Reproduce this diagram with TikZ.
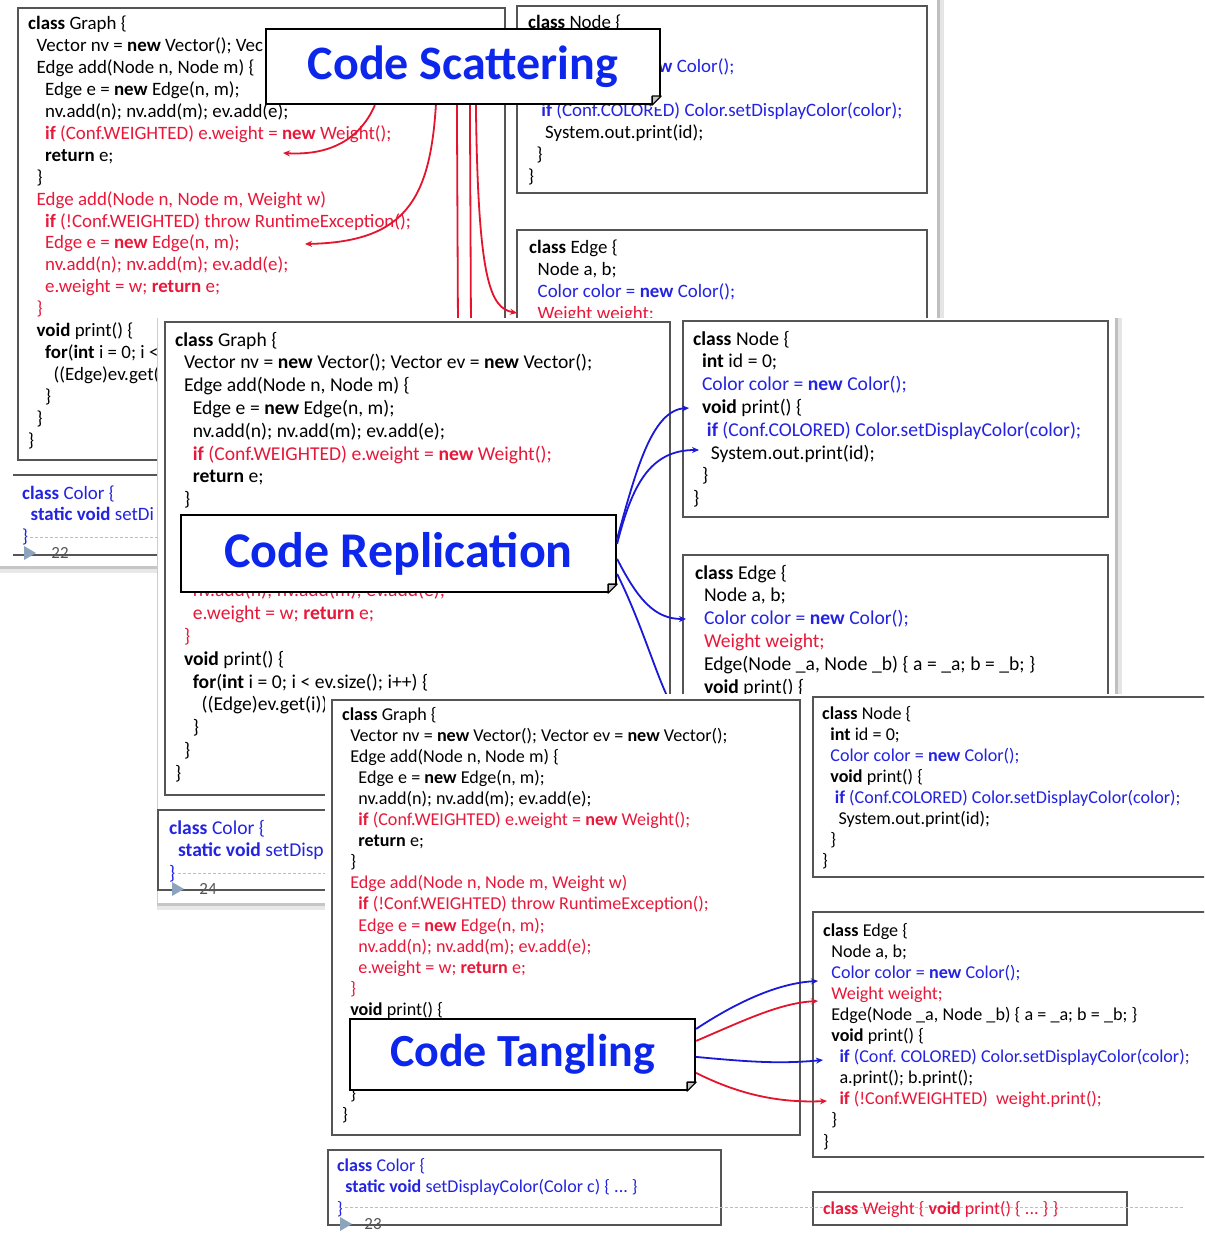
\documentclass[tikz,border=0pt]{standalone}
\usepackage{fontspec}
\setmainfont{Carlito}
\usetikzlibrary{arrows.meta}
\setlength{\parindent}{0pt}

\definecolor{codeblue}{RGB}{35,35,225}
\definecolor{codered}{RGB}{232,24,58}
\definecolor{titleblue}{RGB}{12,38,235}
\definecolor{arrowblue}{RGB}{25,25,215}
\definecolor{arrowred}{RGB}{228,20,45}
\definecolor{boxgray}{RGB}{85,85,85}
\definecolor{footgray}{RGB}{140,165,188}

\newcommand{\kwd}[1]{\textbf{#1}}
\newcommand{\tabi}{\hspace*{.45em}}
\newcommand{\tabj}{\hspace*{.7em}}
\newcommand{\cblue}[1]{{\color{codeblue}#1}}
\newcommand{\cred}[1]{{\color{codered}#1}}
\newcommand{\tightsp}{\frenchspacing\spaceskip=.23em\relax}

% Classe Node (entière)
\newcommand{\nodecode}{%
\kwd{class} Node \{\\
\tabi\kwd{int} id = 0;\\
\tabi\cblue{Color color = \kwd{new} Color();}\\
\tabi\kwd{void} print() \{\\
\tabj\cblue{\kwd{if} (Conf.COLORED) Color.setDisplayColor(color);}\\
\tabi\tabi System.out.print(id);\\
\tabi\}\\
\}}

\tikzset{
  codebox/.style={draw=boxgray, line width=1.3pt},
  codetext/.style={anchor=base west, inner sep=0pt, text width=620pt, align=left,
    execute at begin node=\tightsp},
  sizeA/.style={font=\fontsize{18.9}{21.9}\selectfont},
  sizeB/.style={font=\fontsize{19.6}{22.8}\selectfont},
  sizeC/.style={font=\fontsize{18.1}{21.1}\selectfont},
  sizeD/.style={font=\fontsize{18}{21.5}\selectfont},
  callout/.style={draw=black, line width=2.2pt, fill=white, text=titleblue, inner sep=0pt},
  redarrow/.style={draw=arrowred, line width=1.8pt, -{Stealth[length=7pt,width=6pt]}},
  bluearrow/.style={draw=arrowblue, line width=1.8pt, -{Stealth[length=7pt,width=6pt]}},
  footline/.style={draw=footgray!70, line width=0.8pt, dash pattern=on 3pt off 2pt},
  pagenum/.style={text=boxgray, inner sep=0pt, font=\fontsize{17}{17}\selectfont},
}

\begin{document}
\begin{tikzpicture}[x=1pt, y=-1pt]
\useasboundingbox (0,0) rectangle (1204,1241);
\clip (0,0) rectangle (1204,1241);
\fill[white] (0,0) rectangle (1204,1241);

% Diapositive 22
\fill[gray!50] (937,0) rectangle (940,569);
\fill[gray!20] (940,0) rectangle (944,572);
\fill[gray!45] (0,566) rectangle (940,569);
\fill[gray!18] (0,569) rectangle (940,573);
\draw[codebox] (18,8) rectangle (505,460);
\draw[codebox] (517,6) rectangle (927,193);
\draw[codebox] (517,230) rectangle (927,520);
\draw[codebox] (13,475) -- (420,475) (13,555) -- (420,555);
\node[codetext, sizeA] (g22) at (28,30) {%
\kwd{class} Graph \{\\
\tabi Vector nv = \kwd{new} Vector(); Vec\\
\tabi Edge add(Node n, Node m) \{\\
\tabi\tabi Edge e = \kwd{new} Edge(n, m);\\
\tabi\tabi nv.add(n); nv.add(m); ev.add(e);\\
\tabi\tabi\cred{\kwd{if} (Conf.WEIGHTED) e.weight = \kwd{new} Weight();}\\
\tabi\tabi\kwd{return} e;\\
\tabi\}\\
\tabi\cred{Edge add(Node n, Node m, Weight w)}\\
\tabi\tabi\cred{\kwd{if} (!Conf.WEIGHTED) throw RuntimeException();}\\
\tabi\tabi\cred{Edge e = \kwd{new} Edge(n, m);}\\
\tabi\tabi\cred{nv.add(n); nv.add(m); ev.add(e);}\\
\tabi\tabi\cred{e.weight = w; \kwd{return} e;}\\
\tabi\cred{\}}\\
\tabi\kwd{void} print() \{\\
\tabi\tabi\kwd{for}(\kwd{int} i = 0; i <\\
\tabi\tabi\tabi((Edge)ev.get(\\
\tabi\tabi\}\\
\tabi\}\\
\}};
\node[codetext, sizeA] (n22) at (528,29) {%
\kwd{class} Node \{\\
\mbox{}\\
\tabi\cblue{\phantom{Color color = \kwd{ne}}\kwd{w} Color();}\\
\mbox{}\\
\tabj\cblue{\kwd{if} (Conf.COLORED) Color.setDisplayColor(color);}\\
\tabi\tabi System.out.print(id);\\
\tabi\}\\
\}};
\node[codetext, sizeA] (e22) at (529,254) {%
\kwd{class} Edge \{\\
\tabi Node a, b;\\
\tabi\cblue{Color color = \kwd{new} Color();}\\
\tabi\cred{Weight weight;}};
\node[codetext, sizeA] (c22) at (22,499) {%
\cblue{\kwd{class} Color \{}\\
\tabi\cblue{\kwd{static void} setDi}\\
\cblue{\}}};
\draw[footline] (30,537) -- (900,537);
\fill[footgray] (24,546) -- (36,553) -- (24,560) -- cycle;
\node[pagenum] (p22) at (60,553) {22};

% Dispersion du code
\node[callout, minimum width=394pt, minimum height=75pt,
      font=\bfseries\fontsize{48}{50}\selectfont] (scat) at (463,66.5) {Code Scattering};
\coordinate (sc1) at (283,153);
\coordinate (sc2) at (305,244);
\coordinate (sc3) at (517,313);
\coordinate (sc4) at (458,330);
\coordinate (sc5) at (471,330);
\draw[redarrow] ([xshift=110pt]scat.south west) .. controls (362,135) and (335,156) .. (sc1);
\draw[redarrow] ([xshift=171pt]scat.south west) .. controls (430,200) and (405,242) .. (sc2);
\draw[draw=arrowred, line width=1.8pt] ([xshift=192pt]scat.south west) -- (sc4);
\draw[draw=arrowred, line width=1.8pt] ([xshift=205pt]scat.south west) -- (sc5);
\draw[redarrow] ([xshift=211pt]scat.south west) .. controls (478,280) and (490,308) .. (sc3);

% Diapositive 24
\fill[white] (157,318) rectangle (1115,903);
\fill[gray!50] (1115,318) rectangle (1118,906);
\fill[gray!20] (1118,318) rectangle (1122,909);
\fill[gray!45] (157,903) rectangle (1118,906);
\fill[gray!18] (157,906) rectangle (1118,910);
\draw[gray!40, line width=0.6pt] (157,318) -- (157,903);
\draw[codebox] (165,322) rectangle (670,795);
\draw[codebox] (683,321) rectangle (1108,517);
\draw[codebox] (683,555) rectangle (1108,800);
\draw[codebox] (158,810) rectangle (560,890);
\node[codetext, sizeB] (g24) at (175,346) {%
\kwd{class} Graph \{\\
\tabi Vector nv = \kwd{new} Vector(); Vector ev = \kwd{new} Vector();\\
\tabi Edge add(Node n, Node m) \{\\
\tabi\tabi Edge e = \kwd{new} Edge(n, m);\\
\tabi\tabi nv.add(n); nv.add(m); ev.add(e);\\
\tabi\tabi\cred{\kwd{if} (Conf.WEIGHTED) e.weight = \kwd{new} Weight();}\\
\tabi\tabi\kwd{return} e;\\
\tabi\}\\
\mbox{}\\
\mbox{}\\
\mbox{}\\
\tabi\tabi\cred{nv.add(n); nv.add(m); ev.add(e);}\\
\tabi\tabi\cred{e.weight = w; \kwd{return} e;}\\
\tabi\cred{\}}\\
\tabi\kwd{void} print() \{\\
\tabi\tabi\kwd{for}(\kwd{int} i = 0; i < ev.size(); i++) \{\\
\tabi\tabi\tabi((Edge)ev.get(i))\\
\tabi\tabi\}\\
\tabi\}\\
\}};
\node[codetext, sizeB] (n24) at (693,345) {\nodecode};
\node[codetext, sizeB] (e24) at (695,579) {%
\kwd{class} Edge \{\\
\tabi Node a, b;\\
\tabi\cblue{Color color = \kwd{new} Color();}\\
\tabi\cred{Weight weight;}\\
\tabi Edge(Node \_a, Node \_b) \{ a = \_a; b = \_b; \}\\
\tabi\kwd{void} print() \{};
\node[codetext, sizeB] (c24) at (169,834) {%
\cblue{\kwd{class} Color \{}\\
\tabi\cblue{\kwd{static void} setDispl}\\
\cblue{\}}};
\draw[footline] (178,873) -- (1100,873);
\fill[footgray] (172,882) -- (184,889) -- (172,896) -- cycle;
\node[pagenum] (p24) at (208,889) {24};

% Réplication du code
\node[callout, minimum width=435pt, minimum height=77pt,
      font=\bfseries\fontsize{50}{52}\selectfont] (repl) at (398.5,553.5) {Code Replication};
\coordinate (rp1) at (689,408);
\coordinate (rp2) at (699,450);
\coordinate (rp3) at (686,619);
\coordinate (rp4) at (676,712);
\draw[bluearrow] ([yshift=-25pt]repl.north east) .. controls (636,470) and (652,410) .. (rp1);
\draw[bluearrow] ([yshift=-30pt]repl.north east) .. controls (632,485) and (650,450) .. (rp2);
\draw[bluearrow] ([yshift=-45pt]repl.north east) .. controls (638,600) and (655,619) .. (rp3);
\draw[draw=arrowblue, line width=1.8pt] ([yshift=-60pt]repl.north east) .. controls (645,630) and (660,690) .. (rp4);

% Diapositive 23
\fill[white] (325,694) rectangle (1204,1241);
\draw[codebox] (332,700) rectangle (800,1135);
\draw[codebox] (813,697) rectangle (1215,877);
\draw[codebox] (813,912) rectangle (1215,1157);
\draw[codebox] (328,1150) rectangle (721,1225);
\draw[codebox] (813,1192) rectangle (1127,1225);
\draw[footline] (345,1207) -- (1185,1207);
\node[codetext, sizeC] (g23) at (342,720) {%
\kwd{class} Graph \{\\
\tabi Vector nv = \kwd{new} Vector(); Vector ev = \kwd{new} Vector();\\
\tabi Edge add(Node n, Node m) \{\\
\tabi\tabi Edge e = \kwd{new} Edge(n, m);\\
\tabi\tabi nv.add(n); nv.add(m); ev.add(e);\\
\tabi\tabi\cred{\kwd{if} (Conf.WEIGHTED) e.weight = \kwd{new} Weight();}\\
\tabi\tabi\kwd{return} e;\\
\tabi\}\\
\tabi\cred{Edge add(Node n, Node m, Weight w)}\\
\tabi\tabi\cred{\kwd{if} (!Conf.WEIGHTED) throw RuntimeException();}\\
\tabi\tabi\cred{Edge e = \kwd{new} Edge(n, m);}\\
\tabi\tabi\cred{nv.add(n); nv.add(m); ev.add(e);}\\
\tabi\tabi\cred{e.weight = w; \kwd{return} e;}\\
\tabi\cred{\}}\\
\tabi\kwd{void} print() \{\\
\mbox{}\\
\mbox{}\\
\mbox{}\\
\tabi\}\\
\}};
\node[codetext, sizeC] (n23) at (822,719) {\nodecode};
\node[codetext, sizeC] (e23) at (823,936) {%
\kwd{class} Edge \{\\
\tabi Node a, b;\\
\tabi\cblue{Color color = \kwd{new} Color();}\\
\tabi\cred{Weight weight;}\\
\tabi Edge(Node \_a, Node \_b) \{ a = \_a; b = \_b; \}\\
\tabi\kwd{void} print() \{\\
\tabi\tabi\cblue{\kwd{if} (Conf. COLORED) Color.setDisplayColor(color);}\\
\tabi\tabi a.print(); b.print();\\
\tabi\tabi\cred{\kwd{if} (!Conf.WEIGHTED)\ \ weight.print();}\\
\tabi\}\\
\}};
\node[codetext, sizeD] (c23) at (337,1171) {%
\cblue{\kwd{class} Color \{}\\
\tabi\cblue{\kwd{static void} setDisplayColor(Color c) \{ ... \}}\\
\cblue{\}}};
\node[codetext, sizeD] (w23) at (823,1214)
  {\cred{\kwd{class} Weight \{ \kwd{void} print() \{ ... \} \}}};
\fill[footgray] (340,1217) -- (352,1224) -- (340,1231) -- cycle;
\node[pagenum] (p23) at (373,1224) {23};

% Enchevêtrement du code
\node[callout, minimum width=345pt, minimum height=71pt,
      font=\bfseries\fontsize{46}{48}\selectfont] (tang) at (522.5,1054.5) {Code Tangling};
\coordinate (tg1) at (818,981);
\coordinate (tg2) at (818,1001);
\coordinate (tg3) at (823,1060);
\coordinate (tg4) at (827,1101);
\draw[bluearrow] ([yshift=-11pt]tang.north east) .. controls (740,1000) and (780,983) .. (tg1);
\draw[redarrow] ([yshift=-23pt]tang.north east) .. controls (745,1020) and (780,1003) .. (tg2);
\draw[bluearrow] ([yshift=-39pt]tang.north east) .. controls (750,1062) and (780,1064) .. (tg3);
\draw[redarrow] ([yshift=-55pt]tang.north east) .. controls (740,1095) and (780,1103) .. (tg4);

% Coins pliés
\foreach \c in {scat,repl,tang}{
  \fill[white] ([xshift=2pt,yshift=11pt]\c.south east) -- ([xshift=2pt,yshift=-2pt]\c.south east)
    -- ([xshift=-11pt,yshift=-2pt]\c.south east) -- cycle;
  \draw[line width=1.3pt, fill=gray!45, line join=round] ([yshift=9pt]\c.south east)
    -- ([xshift=-9pt]\c.south east) -- ([xshift=-9pt,yshift=9pt]\c.south east) -- cycle;
}
\end{tikzpicture}
\end{document}
